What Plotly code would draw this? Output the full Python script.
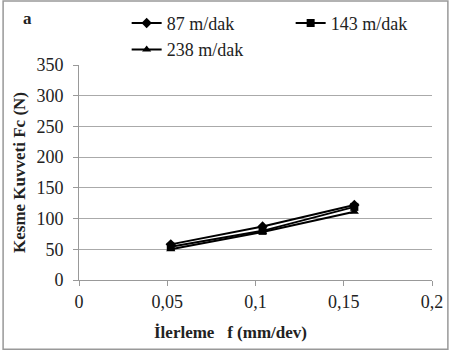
import plotly.graph_objects as go

feed = [0.052, 0.104, 0.156]
s87 = [58, 87, 122]
s143 = [54, 80, 119]
s238 = [50, 78, 111]
names = ["87 m/dak", "143 m/dak", "238 m/dak"]
symbols = ["diamond", "square", "triangle-up"]
xticks = [0, 0.05, 0.1, 0.15, 0.2]
xticklabels = ["0", "0,05", "0,1", "0,15", "0,2"]

fig = go.Figure()
for name, vals, sym in zip(names, [s87, s143, s238], symbols):
    fig.add_trace(go.Scatter(x=feed, y=vals, name=name, mode="lines+markers",
                             line=dict(color="black", width=2),
                             marker=dict(symbol=sym, size=8, color="black")))

font = "Times New Roman, Liberation Serif, serif"
fig.update_layout(
    width=450, height=356,
    margin=dict(l=79, r=18, t=65, b=76, autoexpand=False),
    paper_bgcolor="white", plot_bgcolor="white",
    font=dict(family=font, size=18, color="#222"),
    showlegend=True,
    legend=dict(orientation="h", x=0.135, y=1.28, xanchor="left", yanchor="top",
                entrywidth=119, font=dict(size=18, family=font), bgcolor="rgba(0,0,0,0)",
                tracegroupgap=0),
    xaxis=dict(range=[0, 0.2], tickvals=xticks, ticktext=xticklabels,
               tickfont=dict(family=font, size=18),
               showgrid=False, zeroline=False, showline=True, linecolor="#999",
               ticks="outside", ticklen=5, tickcolor="#999"),
    yaxis=dict(range=[0, 350], dtick=50, showgrid=True, gridcolor="#aaa",
               tickfont=dict(family=font, size=18),
               zeroline=False, showline=True, linecolor="#999",
               ticks="outside", ticklen=5, tickcolor="#999", ticklabelstandoff=6,
               title=dict(text="<b>Kesme Kuvveti Fc (N)</b>", font=dict(size=17, family=font), standoff=6)),
    annotations=[
        dict(text="<b>a</b>", x=-0.165, y=1.27, xref="paper", yref="paper",
             showarrow=False, font=dict(size=17, family=font)),
        dict(text="<b>İlerleme   f (mm/dev)</b>", x=0.43, y=-0.243, xref="paper", yref="paper",
             xanchor="center", yanchor="middle", showarrow=False,
             font=dict(size=17, family=font)),
    ],
    shapes=[dict(type="rect", xref="paper", yref="paper",
                 x0=-0.215, x1=1.045, y0=-0.322, y1=1.298,
                 line=dict(color="#999", width=1.5))],
)
fig.write_html("out.html", config={"displayModeBar": False},
               post_script="document.body.style.margin='0';document.body.style.overflow='hidden';")
